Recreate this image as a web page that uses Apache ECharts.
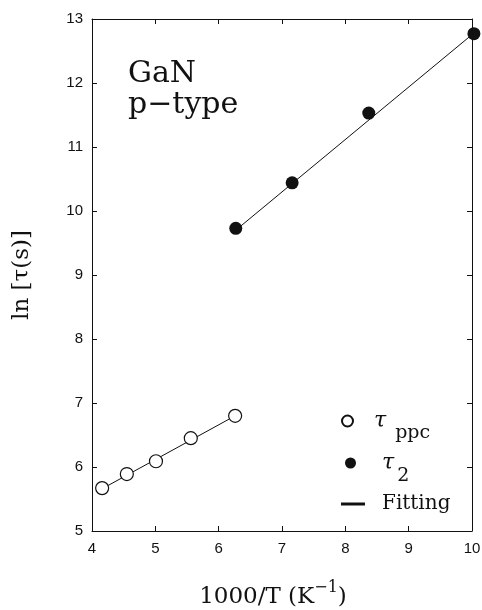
<!DOCTYPE html>
<html>
<head>
<meta charset="utf-8">
<script src="https://cdn.jsdelivr.net/npm/echarts@6/dist/echarts.min.js"></script>
<style>
  html, body { margin: 0; padding: 0; background: #fff; }
  #chart { width: 482px; height: 610px; }
</style>
</head>
<body>
<div id="chart"></div>
<script>
// Persistent photoconductivity lifetime vs inverse temperature (GaN, p-type)
const ppcX = [4.16, 4.55, 5.01, 5.56, 6.26];
const ppcY = [5.67, 5.89, 6.09, 6.45, 6.80];
const tau2X = [6.27, 7.16, 8.37, 10.03];
const tau2Y = [9.73, 10.44, 11.53, 12.77];
// Linear fits (end points)
const ppcFitX = [4.16, 6.26];
const ppcFitY = [5.66, 6.80];
const tau2FitX = [6.27, 10.03];
const tau2FitY = [9.70, 12.78];
// Axis ranges
const xRange = [4, 10];
const yRange = [5, 13];

const zip = (xs, ys) => xs.map((x, i) => [x, ys[i]]);

const SERIF = 'DejaVu Serif';
const SANS = 'Liberation Sans';
const INK = '#111';

const chart = echarts.init(document.getElementById('chart'), null, { renderer: 'canvas' });

const tickStyle = { show: true, inside: true, length: 5, lineStyle: { color: INK, width: 1 } };
const lineStyle = { show: true, onZero: false, lineStyle: { color: INK, width: 1 } };

const legendText = {
  'τppc': '{t|τ}{s|ppc}',
  'τ2': '{t2|τ}{s2|2}',
  'Fitting': '{f|Fitting}'
};
const legendRich = {
  t: { fontFamily: SERIF, fontStyle: 'italic', fontSize: 22, color: INK, padding: [0, 0, 0, 16] },
  s: { fontFamily: SERIF, fontSize: 19, color: INK, padding: [24, 0, 0, 9] },
  t2: { fontFamily: SERIF, fontStyle: 'italic', fontSize: 22, color: INK, padding: [0, 0, 0, 21] },
  s2: { fontFamily: SERIF, fontSize: 19, color: INK, padding: [26, 0, 0, 3] },
  f: { fontFamily: SERIF, fontSize: 20, color: INK, padding: [0, 0, 0, 12] }
};
const makeLegend = (name, left, top, extra) => Object.assign({
  data: [name],
  left: left,
  top: top,
  padding: 0,
  itemWidth: 11,
  itemHeight: 11,
  selectedMode: false,
  formatter: n => legendText[n],
  textStyle: { rich: legendRich }
}, extra || {});

chart.setOption({
  animation: false,
  backgroundColor: '#fff',
  grid: { left: 92, right: 10, top: 19, bottom: 79, containLabel: false, outerBoundsMode: 'none' },
  xAxis: [
    {
      type: 'value', min: xRange[0], max: xRange[1], interval: 1,
      axisLine: lineStyle, axisTick: tickStyle, splitLine: { show: false },
      axisLabel: { color: INK, fontFamily: SANS, fontSize: 15, margin: 10 },
      name: '{a|1000/T (K}{sup|−1}{a|)}',
      nameLocation: 'middle', nameGap: 49,
      nameTextStyle: {
        padding: [0, 18, 0, 0],
        rich: {
          a: { fontFamily: SERIF, fontSize: 23, color: INK },
          sup: { fontFamily: SERIF, fontSize: 16, color: INK, padding: [0, 0, 18, 0] }
        }
      }
    },
    {
      type: 'value', position: 'top', min: xRange[0], max: xRange[1], interval: 1,
      axisLine: lineStyle, axisTick: tickStyle, axisLabel: { show: false }, splitLine: { show: false }
    }
  ],
  yAxis: [
    {
      type: 'value', min: yRange[0], max: yRange[1], interval: 1,
      axisLine: lineStyle, axisTick: tickStyle, splitLine: { show: false },
      axisLabel: { color: INK, fontFamily: SANS, fontSize: 15, margin: 9 },
      name: 'ln [τ(s)]', nameLocation: 'middle', nameGap: 58,
      nameTextStyle: { fontFamily: SERIF, fontSize: 23, color: INK }
    },
    {
      type: 'value', position: 'right', min: yRange[0], max: yRange[1], interval: 1,
      axisLine: lineStyle, axisTick: tickStyle, axisLabel: { show: false }, splitLine: { show: false }
    }
  ],
  legend: [
    makeLegend('τppc', 341, 410),
    makeLegend('τ2', 345, 452),
    makeLegend('Fitting', 341, 494, { icon: 'rect', itemWidth: 24, itemHeight: 3 })
  ],
  graphic: [
    {
      type: 'text', left: 128, top: 59, silent: true,
      style: {
        text: 'GaN\np−type',
        font: '30px "' + SERIF + '"',
        lineHeight: 31,
        fill: INK
      }
    }
  ],
  series: [
    {
      name: 'Fitting', type: 'line', data: zip(ppcFitX, ppcFitY),
      showSymbol: false, symbol: 'none', silent: true,
      lineStyle: { color: INK, width: 1 }, itemStyle: { color: INK }, z: 2
    },
    {
      name: 'Fitting', type: 'line', data: zip(tau2FitX, tau2FitY),
      showSymbol: false, symbol: 'none', silent: true, clip: false,
      lineStyle: { color: INK, width: 1 }, itemStyle: { color: INK }, z: 2
    },
    {
      name: 'τppc', type: 'scatter', data: zip(ppcX, ppcY),
      symbol: 'circle', symbolSize: 13, clip: false,
      itemStyle: { color: '#fff', borderColor: INK, borderWidth: 1.2, opacity: 1 }, z: 3
    },
    {
      name: 'τ2', type: 'scatter', data: zip(tau2X, tau2Y),
      symbol: 'circle', symbolSize: 13, clip: false,
      itemStyle: { color: INK, opacity: 1 }, z: 3
    }
  ]
});
</script>
</body>
</html>
